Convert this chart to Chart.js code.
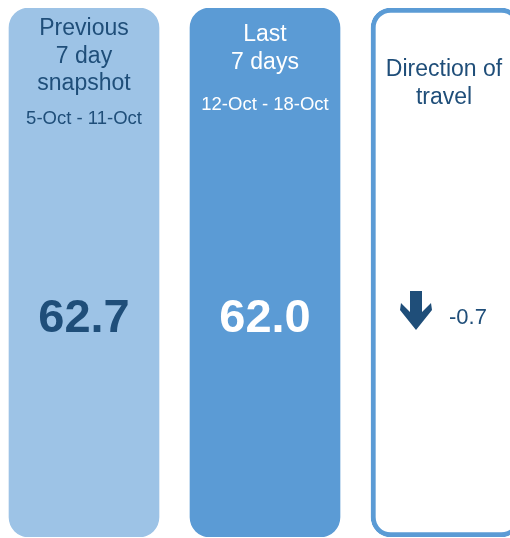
<!DOCTYPE html>
<html>
<head>
<meta charset="utf-8">
<script src="https://cdn.jsdelivr.net/npm/chart.js@4/dist/chart.umd.min.js"></script>
<style>
  html, body { margin: 0; padding: 0; background: #ffffff; overflow: hidden; }
  body { width: 510px; height: 538px; position: relative; }
  #c { position: absolute; left: -7px; top: 0; }
</style>
</head>
<body>
<canvas id="c" width="544" height="538" style="width:544px;height:538px;"></canvas>
<script>
// ---- data ----
const categories = ['Previous 7 day snapshot', 'Last 7 days', 'Direction of travel'];
const titleLines = [['Previous', '7 day', 'snapshot'], ['Last', '7 days'], ['Direction of', 'travel']];
const dateRanges = ['5-Oct - 11-Oct', '12-Oct - 18-Oct', ''];
const values = [62.7, 62.0];
const changes = [-0.7];
const cardExtent = [1, 1, 1];

// ---- styles ----
const DARK = '#1F4E79';
const LIGHT = '#9DC3E6';
const MID = '#5B9BD5';
const FONT = '"Liberation Sans", Arial, sans-serif';

const titleTop = [27, 33, 68];
const titleColor = [DARK, '#FFFFFF', DARK];
const dateY = [117, 103, 0];

const kpiText = {
  id: 'kpiText',
  afterDatasetsDraw(chart) {
    const ctx = chart.ctx;
    const meta = chart.getDatasetMeta(0);
    const yValue = 318;
    ctx.save();
    ctx.textAlign = 'center';
    ctx.textBaseline = 'middle';
    meta.data.forEach((bar, i) => {
      const cx = bar.x;
      ctx.fillStyle = titleColor[i];
      ctx.font = '23px ' + FONT;
      let tx = cx;
      if (i === 2) tx = cx - 2;
      titleLines[i].forEach((line, j) => {
        ctx.fillText(line, tx, titleTop[i] + 2 + j * 27.5);
      });
      if (dateRanges[i]) {
        ctx.font = '18.5px ' + FONT;
        ctx.fillText(dateRanges[i], cx, dateY[i] + 2);
      }
      if (i < 2) {
        ctx.font = 'bold 47px ' + FONT;
        ctx.fillText(values[i].toFixed(1), cx, yValue + 1);
      } else {
        const d = changes[0];
        const ax = bar.x - 30;
        ctx.fillStyle = DARK;
        ctx.beginPath();
        if (d < 0) {
          ctx.moveTo(ax - 6, 291);
          ctx.lineTo(ax + 6, 291);
          ctx.lineTo(ax + 6, 312);
          ctx.lineTo(ax + 15, 303);
          ctx.lineTo(ax + 16, 310);
          ctx.lineTo(ax, 330);
          ctx.lineTo(ax - 16, 310);
          ctx.lineTo(ax - 15, 303);
          ctx.lineTo(ax - 6, 312);
        } else {
          ctx.moveTo(ax - 6, 330);
          ctx.lineTo(ax + 6, 330);
          ctx.lineTo(ax + 6, 309);
          ctx.lineTo(ax + 15, 318);
          ctx.lineTo(ax + 16, 311);
          ctx.lineTo(ax, 291);
          ctx.lineTo(ax - 16, 311);
          ctx.lineTo(ax - 15, 318);
          ctx.lineTo(ax - 6, 309);
        }
        ctx.closePath();
        ctx.fill();
        ctx.textAlign = 'left';
        ctx.font = '22px ' + FONT;
        ctx.fillText(d.toFixed(1), bar.x + 3, yValue);
        ctx.textAlign = 'center';
      }
    });
    ctx.restore();
  }
};

new Chart(document.getElementById('c'), {
  type: 'bar',
  data: {
    labels: categories,
    datasets: [{
      data: cardExtent,
      backgroundColor: [LIGHT, MID, '#FFFFFF'],
      borderColor: [LIGHT, MID, MID],
      borderWidth: [0, 0, 5],
      borderRadius: 20,
      borderSkipped: false,
      barThickness: 150
    }]
  },
  options: {
    responsive: false,
    animation: false,
    layout: { padding: { left: 0.5, right: 0.5, top: 8, bottom: 1 } },
    plugins: { legend: { display: false }, tooltip: { enabled: false } },
    scales: {
      x: { display: false },
      y: { display: false, min: 0, max: 1 }
    }
  },
  plugins: [kpiText]
});
</script>
</body>
</html>
